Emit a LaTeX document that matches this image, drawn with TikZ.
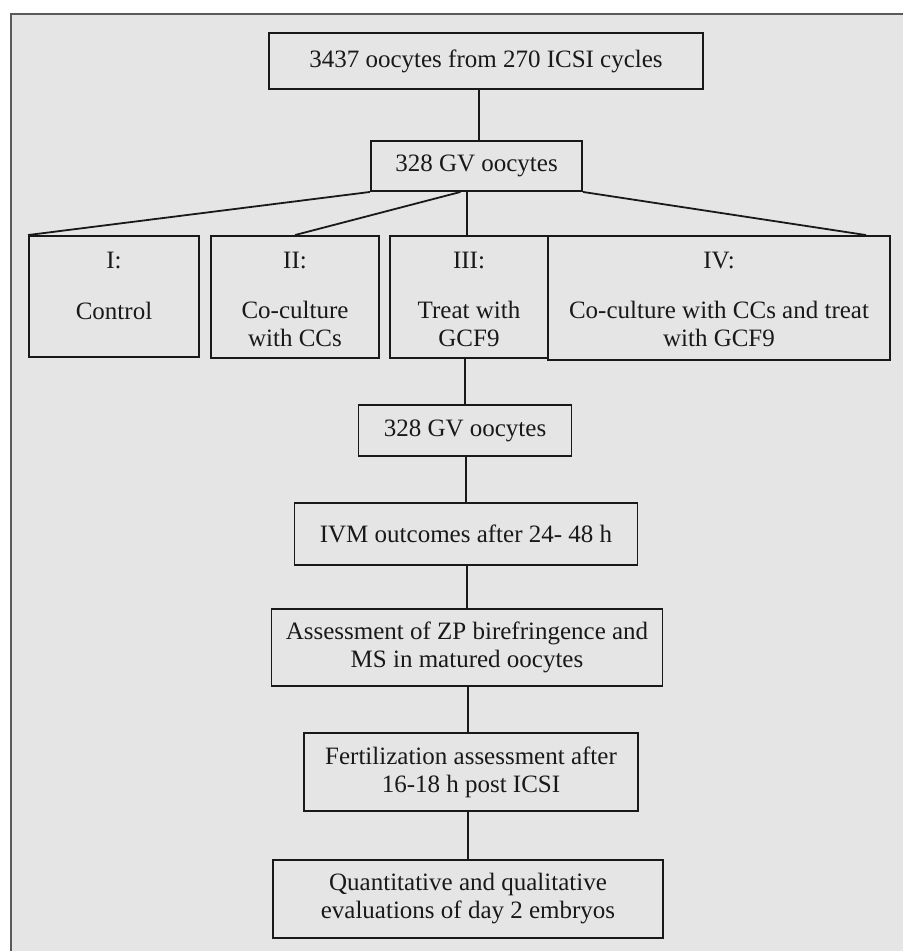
\documentclass[tikz,border=0pt]{standalone}
\usepackage{fontspec}
\setmainfont{Liberation Serif}
\definecolor{bgray}{RGB}{229,229,229}
\definecolor{framec}{RGB}{90,90,90}
\definecolor{ink}{RGB}{25,25,25}
\begin{document}
\begin{tikzpicture}[x=1pt,y=-1pt,
  box/.style={draw=ink, line width=1.9pt, inner sep=0pt},
  link/.style={draw=ink, line width=1.8pt},
  txt/.style={align=center, text=ink, font=\fontsize{25}{28}\selectfont},
  lbl/.style={txt, inner sep=0pt, anchor=north}]
\useasboundingbox (0,0) rectangle (903,951);
\fill[white] (0,0) rectangle (903,951);
\fill[bgray] (11,14) rectangle (903,951);
\draw[framec, line width=1.4pt] (11,951) -- (11,14) -- (903,14);

% main column
\node[box, txt, minimum width=434pt, minimum height=56pt] (b1) at (486,61) {3437 oocytes from 270 ICSI cycles};
\node[box, txt, minimum width=211pt, minimum height=50pt] (b2) at (476.5,166) {328 GV oocytes};

% group boxes
\node[box, minimum width=170pt, minimum height=121pt] (g1) at (114,296.5) {};
\node[box, minimum width=168pt, minimum height=122pt] (g2) at (295,297) {};
\node[box, minimum width=158pt, minimum height=122pt] (g3) at (469,297) {};
\node[box, minimum width=342pt, minimum height=124pt] (g4) at (719,298) {};

\node[lbl] (t1) at (114,252) {I:\\[23pt]Control};
\node[lbl] (t2) at (295,252) {II:\\[22pt]Co-culture\\with CCs};
\node[lbl] (t3) at (469,252) {III:\\[22pt]Treat with\\GCF9};
\node[lbl] (t4) at (719,252) {IV:\\[22pt]Co-culture with CCs and treat\\with GCF9};

\node[box, txt, minimum width=213pt, minimum height=51pt] (b3) at (465,430.5) {328 GV oocytes};
\node[box, txt, minimum width=343pt, minimum height=62pt] (b4) at (466,534) {IVM outcomes after 24- 48 h};
\node[box, txt, minimum width=391pt, minimum height=77pt] (b5) at (467,647.5) {Assessment of ZP birefringence and\\MS in matured oocytes};
\node[box, txt, minimum width=334pt, minimum height=78pt] (b6) at (471,772) {Fertilization assessment after\\16-18 h post ICSI};
\node[box, txt, minimum width=390pt, minimum height=78pt] (b7) at (468,899) {Quantitative and qualitative\\evaluations of day 2 embryos};

% connectors
\draw[link] ([xshift=-7pt]b1.south) -- ([xshift=-7pt]b1.south |- b2.north);
\draw[link] (b2.south west) -- (g1.north west);
\draw[link] ([xshift=-16pt]b2.south) -- (g2.north);
\draw[link] ([xshift=-2pt]g3.north) -- ([xshift=-2pt]g3.north |- b2.south);
\draw[link] (b2.south east) -- ([xshift=-25pt]g4.north east);
\draw[link] (b3.north) -- (b3.north |- g3.south);
\draw[link] (b4.north) -- (b4.north |- b3.south);
\draw[link] (b5.north) -- (b5.north |- b4.south);
\draw[link] ([xshift=1pt]b5.south) -- ([xshift=1pt]b5.south |- b6.north);
\draw[link] (b7.north) -- (b7.north |- b6.south);
\end{tikzpicture}
\end{document}
